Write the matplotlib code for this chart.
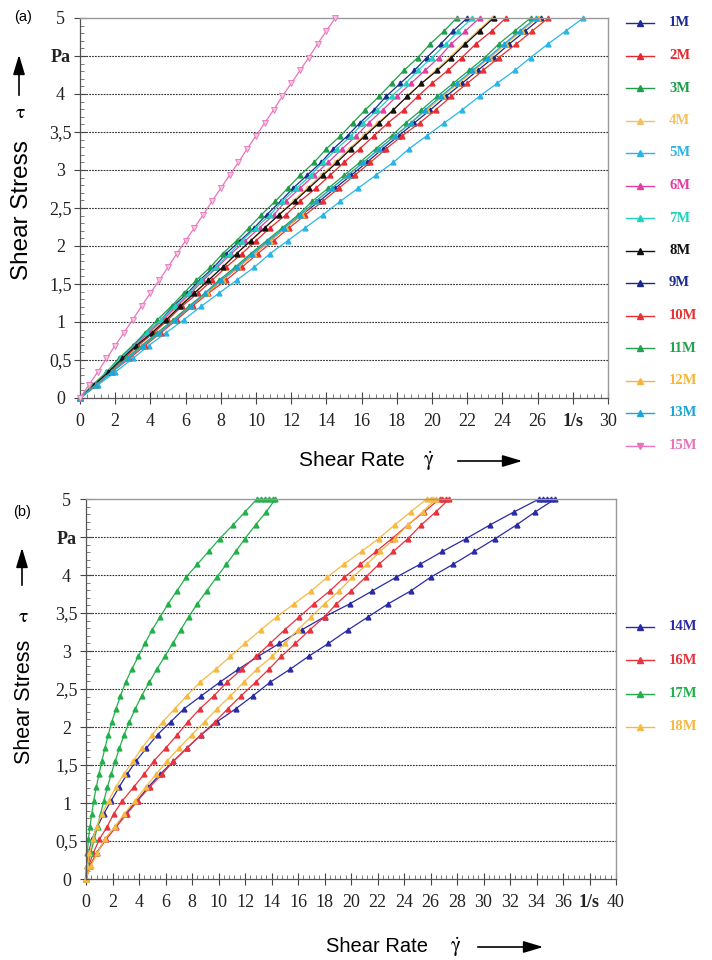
import numpy as np
import matplotlib
matplotlib.use('Agg')
import matplotlib.pyplot as plt
from matplotlib.ticker import MultipleLocator
from matplotlib.lines import Line2D
from matplotlib.patches import FancyArrowPatch

plt.rcParams['mathtext.fontset'] = 'stix'

SERIF = 'Liberation Serif'
SANS = 'Liberation Sans'

# shear stress steps of the ramp (Pa), shared by every curve
tau = [0, 0.17, 0.34, 0.52, 0.69, 0.86, 1.03, 1.21, 1.38, 1.55, 1.72, 1.90, 2.07, 2.24, 2.41,
       2.59, 2.76, 2.93, 3.10, 3.28, 3.45, 3.62, 3.79, 3.97, 4.14, 4.31, 4.48, 4.66, 4.83, 5.00]

# (a) shear rate (1/s) read at each stress step
names_a = ['1M', '2M', '3M', '4M', '5M', '6M', '7M', '8M', '9M', '10M', '11M', '12M', '13M', '15M']
colors_a = ['#1c2c90', '#e8282e', '#1f9e4a', '#f5c060', '#29b6e6', '#e23ea2', '#22d2c0',
            '#111111', '#1a2a8a', '#e83232', '#22a24e', '#f6b53a', '#1aa6da', '#ea72bc']
rate_1M = [0, .8, 1.5, 2.3, 3.0, 3.8, 4.6, 5.3, 6.1, 6.8, 7.6, 8.3, 9.1, 9.9, 10.6, 11.4, 12.1, 12.9,
           13.7, 14.4, 15.2, 15.9, 16.7, 17.4, 18.2, 19.0, 19.7, 20.5, 21.2, 22.0]
rate_2M = [0, .8, 1.7, 2.5, 3.3, 4.2, 5.0, 5.8, 6.7, 7.5, 8.3, 9.2, 10.0, 10.8, 11.7, 12.5, 13.4, 14.2,
           15.0, 15.9, 16.7, 17.5, 18.4, 19.2, 20.0, 20.9, 21.7, 22.5, 23.4, 24.2]
rate_3M = [0, .7, 1.5, 2.2, 3.0, 3.7, 4.4, 5.2, 5.9, 6.6, 7.4, 8.1, 8.9, 9.6, 10.3, 11.1, 11.8, 12.5,
           13.3, 14.0, 14.8, 15.5, 16.2, 17.0, 17.7, 18.4, 19.2, 19.9, 20.7, 21.4]
rate_4M = [0, .8, 1.6, 2.4, 3.2, 4.0, 4.8, 5.6, 6.5, 7.3, 8.1, 8.9, 9.7, 10.5, 11.3, 12.1, 12.9, 13.7,
           14.5, 15.3, 16.1, 16.9, 17.8, 18.6, 19.4, 20.2, 21.0, 21.8, 22.6, 23.4]
rate_5M = [0, 1.0, 2.0, 3.0, 3.9, 4.9, 5.9, 6.9, 7.9, 8.9, 9.9, 10.8, 11.8, 12.8, 13.8, 14.8, 15.8, 16.8,
           17.8, 18.7, 19.7, 20.7, 21.7, 22.7, 23.7, 24.7, 25.6, 26.6, 27.6, 28.6]
rate_6M = [0, .8, 1.6, 2.3, 3.1, 3.9, 4.7, 5.5, 6.3, 7.0, 7.8, 8.6, 9.4, 10.2, 11.0, 11.7, 12.5, 13.3,
           14.1, 14.9, 15.7, 16.4, 17.2, 18.0, 18.8, 19.6, 20.4, 21.1, 21.9, 22.7]
rate_7M = [0, .8, 1.5, 2.3, 3.1, 3.8, 4.6, 5.4, 6.2, 6.9, 7.7, 8.5, 9.2, 10.0, 10.8, 11.5, 12.3, 13.1,
           13.8, 14.6, 15.4, 16.1, 16.9, 17.7, 18.5, 19.2, 20.0, 20.8, 21.5, 22.3]
rate_8M = [0, .8, 1.6, 2.4, 3.2, 4.1, 4.9, 5.7, 6.5, 7.3, 8.1, 8.9, 9.7, 10.5, 11.3, 12.2, 13.0, 13.8,
           14.6, 15.4, 16.2, 17.0, 17.8, 18.6, 19.4, 20.3, 21.1, 21.9, 22.7, 23.5]
rate_9M = [0, .9, 1.8, 2.7, 3.6, 4.5, 5.4, 6.3, 7.2, 8.1, 9.0, 9.9, 10.8, 11.7, 12.6, 13.6, 14.5, 15.4,
           16.3, 17.2, 18.1, 19.0, 19.9, 20.8, 21.7, 22.6, 23.5, 24.4, 25.3, 26.2]
rate_10M = [0, .9, 1.8, 2.8, 3.7, 4.6, 5.5, 6.4, 7.3, 8.3, 9.2, 10.1, 11.0, 11.9, 12.8, 13.8, 14.7, 15.6,
            16.5, 17.4, 18.3, 19.3, 20.2, 21.1, 22.0, 22.9, 23.8, 24.8, 25.7, 26.6]
rate_11M = [0, .9, 1.8, 2.6, 3.5, 4.4, 5.3, 6.2, 7.1, 7.9, 8.8, 9.7, 10.6, 11.5, 12.4, 13.2, 14.1, 15.0,
            15.9, 16.8, 17.7, 18.5, 19.4, 20.3, 21.2, 22.1, 23.0, 23.8, 24.7, 25.6]
rate_12M = [0, .9, 1.8, 2.7, 3.6, 4.5, 5.4, 6.3, 7.2, 8.1, 9.0, 9.9, 10.8, 11.7, 12.6, 13.4, 14.3, 15.2,
            16.1, 17.0, 17.9, 18.8, 19.7, 20.6, 21.5, 22.4, 23.3, 24.2, 25.1, 26.0]
rate_13M = [0, .9, 1.8, 2.7, 3.6, 4.5, 5.4, 6.3, 7.1, 8.0, 8.9, 9.8, 10.7, 11.6, 12.5, 13.4, 14.3, 15.2,
            16.1, 17.0, 17.9, 18.8, 19.6, 20.5, 21.4, 22.3, 23.2, 24.1, 25.0, 25.9]
rate_15M = [0, .5, 1.0, 1.5, 2.0, 2.5, 3.0, 3.5, 4.0, 4.5, 5.0, 5.5, 6.0, 6.5, 7.0, 7.5, 8.0, 8.5,
            9.0, 9.5, 10.0, 10.5, 11.0, 11.5, 12.0, 12.5, 13.0, 13.5, 14.0, 14.5]
rates_a = [rate_1M, rate_2M, rate_3M, rate_4M, rate_5M, rate_6M, rate_7M, rate_8M, rate_9M,
           rate_10M, rate_11M, rate_12M, rate_13M, rate_15M]

# (b) up ramp, hold at 5 Pa, down ramp (read at the same stress steps)
names_b = ['14M', '16M', '17M', '18M']
colors_b = ['#2a2aa6', '#e8323c', '#22b04a', '#f7b940']
up_14M = [0, 0.05, 0.2, 0.45, 0.85, 1.35, 1.9, 2.5, 3.1, 3.77, 4.55, 5.4, 6.4, 7.4, 8.7, 10.1, 11.5,
          13.0, 14.6, 16.3, 18.0, 19.9, 21.6, 23.4, 25.2, 26.9, 28.7, 30.5, 32.3, 34.2]
hold_14M = [34.5, 34.8, 35.1]
down_14M = [0, 0.3, 0.8, 1.45, 2.2, 3.0, 3.85, 4.7, 5.6, 6.6, 7.6, 8.7, 9.9, 11.3, 12.6, 13.9, 15.4,
            16.8, 18.3, 19.8, 21.3, 22.8, 24.5, 26.0, 27.7, 29.3, 30.9, 32.5, 33.9, 35.4]
up_16M = [0, 0.2, 0.55, 1.0, 1.6, 2.1, 2.75, 3.6, 4.4, 5.1, 6.0, 6.9, 7.7, 8.6, 9.65, 10.65, 11.75,
          12.85, 13.9, 15.0, 16.1, 17.2, 18.4, 19.5, 20.7, 21.9, 23.1, 24.3, 25.5, 26.7]
hold_16M = [26.9, 27.15]
down_16M = [0, 0.3, 0.8, 1.5, 2.3, 3.1, 3.9, 4.8, 5.75, 6.6, 7.6, 8.7, 9.75, 10.7, 11.7, 12.8, 13.8,
            14.75, 15.8, 16.9, 18.0, 18.9, 20.0, 21.1, 22.1, 23.2, 24.3, 25.3, 26.4, 27.4]
up_17M = [0, 0.05, 0.1, 0.18, 0.3, 0.44, 0.58, 0.78, 0.98, 1.19, 1.43, 1.68, 1.95, 2.27, 2.6, 3.0,
          3.45, 3.95, 4.45, 5.0, 5.6, 6.2, 6.85, 7.55, 8.4, 9.25, 10.1, 11.1, 12.0, 12.9]
hold_17M = [13.2, 13.5, 13.8, 14.1]
down_17M = [0, 0.15, 0.35, 0.62, 0.87, 1.1, 1.35, 1.62, 1.9, 2.2, 2.52, 2.88, 3.28, 3.72, 4.2, 4.78,
            5.35, 5.95, 6.55, 7.15, 7.75, 8.4, 9.1, 9.85, 10.6, 11.3, 12.0, 12.8, 13.6, 14.3]
up_18M = [0, 0.1, 0.25, 0.5, 0.8, 1.2, 1.7, 2.25, 2.85, 3.55, 4.2, 5.0, 5.8, 6.7, 7.6, 8.6, 9.8,
          10.9, 12.0, 13.2, 14.4, 15.7, 17.0, 18.2, 19.45, 20.8, 22.1, 23.3, 24.5, 25.7]
hold_18M = [26.0, 26.2]
down_18M = [0, 0.35, 0.85, 1.4, 2.2, 2.9, 3.7, 4.5, 5.3, 6.1, 7.0, 8.0, 8.95, 9.9, 10.9, 11.9, 12.9,
            14.05, 15.0, 16.0, 17.0, 18.0, 19.1, 20.1, 21.2, 22.2, 23.3, 24.3, 25.4, 26.4]
loops_b = [(up_14M, hold_14M, down_14M), (up_16M, hold_16M, down_16M),
           (up_17M, hold_17M, down_17M), (up_18M, hold_18M, down_18M)]

ytick_vals = [0, 0.5, 1, 1.5, 2, 2.5, 3, 3.5, 4, 4.5, 5]
ytick_labels = ['0', '0,5', '1', '1,5', '2', '2,5', '3', '3,5', '4', 'Pa', '5']

W, H = 712, 960
fig = plt.figure(figsize=(W / 100, H / 100), dpi=100)


def fx(x):
    return x / W


def fy(y):
    return 1 - y / H


def style(ax, xmax, unit_at, fs):
    ax.set_xlim(0, xmax)
    ax.set_ylim(0, 5)
    xt = list(range(0, xmax + 1, 2))
    ax.set_xticks(xt)
    ax.set_xticklabels(['1/s' if v == unit_at else str(v) for v in xt],
                       family=SERIF, fontsize=fs, color='#222')
    ax.set_yticks(ytick_vals)
    ax.set_yticklabels(ytick_labels, family=SERIF, fontsize=fs, color='#222')
    for lab in ax.get_xticklabels():
        if lab.get_text() == '1/s':
            lab.set_fontweight('bold')
    for lab in ax.get_yticklabels():
        lab.set_ha('center')
        if lab.get_text() == 'Pa':
            lab.set_fontweight('bold')
    ax.xaxis.set_minor_locator(MultipleLocator(0.4))
    ax.yaxis.set_minor_locator(MultipleLocator(0.1))
    ax.tick_params(which='major', direction='inout', length=8, width=0.8, color='#444')
    ax.tick_params(axis='x', which='major', pad=7)
    ax.tick_params(axis='y', which='major', pad=10)
    ax.tick_params(which='minor', direction='in', length=3, width=0.6, color='#666')
    for v in ytick_vals[1:-1]:
        ax.axhline(v, color='#333', lw=0.8, ls=(0, (1.6, 1.0)), zorder=0)
    for s in ['left', 'bottom']:
        ax.spines[s].set_color('#555')
        ax.spines[s].set_linewidth(0.9)
    for s in ['top', 'right']:
        ax.spines[s].set_color('#999')
        ax.spines[s].set_linewidth(1.0)


def legend(names, colors, markers, y0, dy):
    for i, (n, c, m) in enumerate(zip(names, colors, markers)):
        y = y0 + i * dy
        fig.add_artist(Line2D([fx(626), fx(654)], [fy(y), fy(y)], color=c, lw=1.0,
                              transform=fig.transFigure))
        fig.add_artist(Line2D([fx(640)], [fy(y)], color=c, marker=m, ms=3.8,
                              transform=fig.transFigure))
        fig.text(fx(669), fy(y), n, color=c, family=SERIF, fontweight='bold',
                 fontsize=10.5, ha='left', va='center')


def arrow(p0, p1):
    fig.add_artist(FancyArrowPatch((fx(p0[0]), fy(p0[1])), (fx(p1[0]), fy(p1[1])),
                                   transform=fig.transFigure, mutation_scale=12,
                                   arrowstyle='-|>,head_length=1.0,head_width=0.3',
                                   color='black', lw=1.2))


def axis_labels(ys, yarrow, ytau, xstress, xs, xg, xarrow, yx, fs_y, fs_x):
    fig.text(fx(xstress), fy(ys), 'Shear Stress', rotation=90, family=SANS,
             fontsize=fs_y, ha='center', va='center')
    fig.text(fx(xstress - 2), fy(ytau), r'$\mathrm{\tau}$', fontsize=14, ha='center', va='center')
    fig.text(fx(xs), fy(yx), 'Shear Rate', family=SANS, fontsize=fs_x, ha='center', va='center')
    fig.text(fx(xg), fy(yx), r'$\dot{\mathrm{\gamma}}$', fontsize=15, ha='center', va='center')
    arrow((xstress - 3, yarrow[0]), (xstress - 3, yarrow[1]))
    arrow((xarrow[0], yx), (xarrow[1], yx))


# (a)
ax1 = fig.add_axes([fx(80), fy(398), (608 - 80) / W, 380 / H])
style(ax1, 30, 28, 13)
for n, c, r in zip(names_a, colors_a, rates_a):
    if n == '15M':
        ax1.plot(r, tau, '-', color=c, lw=0.9, marker='v', ms=3.8, mfc='#f6c2e2', mec=c,
                 mew=0.6, clip_on=False, zorder=3)
    else:
        ax1.plot(r, tau, '-', color=c, lw=0.9, marker='^', ms=3.5, mec=c, mfc=c,
                 clip_on=False, zorder=2)
legend(names_a, colors_a, ['^'] * 13 + ['v'], 23, 32.5)
axis_labels(210, (98, 52), 113, 22, 352, 429, (455, 525), 461, 17.5, 15)
fig.text(fx(23), fy(17), '(a)', family=SANS, fontsize=10.5, ha='center', va='center')

# (b)
ax2 = fig.add_axes([fx(86), fy(879), (616 - 86) / W, 380 / H])
style(ax2, 40, 38, 13)
for n, c, (up, hold, down) in zip(names_b, colors_b, loops_b):
    xs = list(up) + list(hold) + list(down)[::-1]
    ys = list(tau) + [5.0] * len(hold) + list(tau)[::-1]
    ax2.plot(xs, ys, '-', color=c, lw=0.9, marker='^', ms=3.5, mec=c, mfc=c,
             clip_on=False, zorder=2)
legend(names_b, colors_b, ['^'] * 4, 627, 33.3)
axis_labels(702, (588, 545), 616, 25, 377, 456, (475, 546), 947, 15.5, 14.5)
fig.text(fx(22), fy(512), '(b)', family=SANS, fontsize=10.5, ha='center', va='center')

fig.savefig('out.png', dpi=100)
